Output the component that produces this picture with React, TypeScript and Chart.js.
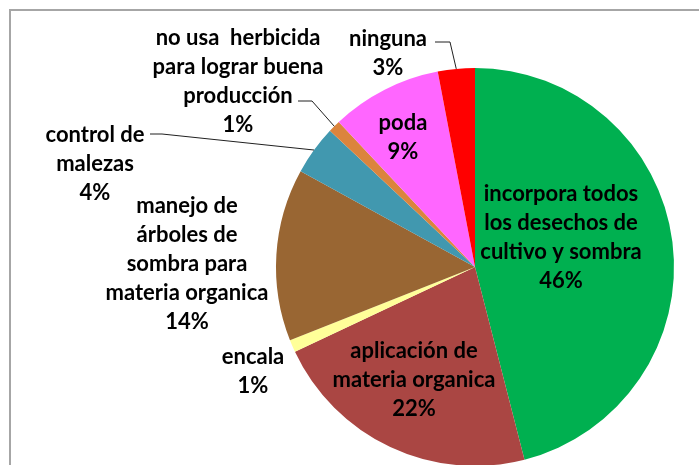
import React, { useEffect, useRef } from "react";
import { Chart, registerables } from "chart.js";

Chart.register(...registerables);

// ---- data ----
const categories: string[] = [
  "incorpora todos los desechos de cultivo y sombra",
  "aplicación de materia organica",
  "encala",
  "manejo de árboles de sombra para materia organica",
  "control de malezas",
  "no usa  herbicida para lograr buena producción",
  "poda",
  "ninguna",
];
const labelLines: string[][] = [
  ["incorpora todos", "los desechos de", "cultivo y sombra"],
  ["aplicación de", "materia organica"],
  ["encala"],
  ["manejo de", "árboles de", "sombra para", "materia organica"],
  ["control de", "malezas"],
  ["no usa  herbicida", "para lograr buena", "producción"],
  ["poda"],
  ["ninguna"],
];
const values: number[] = [46, 22, 1, 14, 4, 1, 9, 3];
const colors: string[] = [
  "#00B050",
  "#AA4643",
  "#FFFF99",
  "#996633",
  "#4198AF",
  "#DB843D",
  "#FF66FF",
  "#FF0000",
];

// ---- label layout (offsets from pie centre, px) ----
type Layout = { dx: number; dy: number; leader?: [number, number][] };
const labelLayout: Layout[] = [
  { dx: 86, dy: -30 },
  { dx: -61, dy: 113 },
  { dx: -222, dy: 104 },
  { dx: -288, dy: -3 },
  { dx: -380, dy: -103, leader: [[-313, -133], [-325, -133]] },
  { dx: -237, dy: -186, leader: [[-163, -166], [-177, -166]] },
  { dx: -72, dy: -130 },
  { dx: -87, dy: -214, leader: [[-25, -225], [-40, -225]] },
];
const LINE_H = 29;
const FONT = "bold 22px Lato";

const labelPlugin = {
  id: "pieLabels",
  afterDatasetsDraw(chart: any) {
    const ctx: CanvasRenderingContext2D = chart.ctx;
    const meta = chart.getDatasetMeta(0);
    const total = values.reduce((a, b) => a + b, 0);
    ctx.save();
    ctx.font = FONT;
    ctx.fillStyle = "#000";
    ctx.textAlign = "center";
    ctx.textBaseline = "middle";
    meta.data.forEach((arc: any, i: number) => {
      const p = arc.getProps(["x", "y", "startAngle", "endAngle", "outerRadius"], true);
      const mid = (p.startAngle + p.endAngle) / 2;
      const L = labelLayout[i];
      const lines = [...labelLines[i], Math.round((values[i] / total) * 100) + "%"];
      const cx = p.x + L.dx;
      const top = p.y + L.dy - ((lines.length - 1) * LINE_H) / 2;
      lines.forEach((t, j) => ctx.fillText(t, cx, top + j * LINE_H));
      if (L.leader) {
        ctx.beginPath();
        ctx.strokeStyle = "#202020";
        ctx.lineWidth = 1;
        ctx.moveTo(p.x + p.outerRadius * Math.cos(mid), p.y + p.outerRadius * Math.sin(mid));
        L.leader.forEach(([lx, ly]) => ctx.lineTo(p.x + lx, p.y + ly));
        ctx.stroke();
      }
    });
    ctx.restore();
  },
};

export default function App() {
  const ref = useRef<HTMLCanvasElement>(null);
  useEffect(() => {
    if (!ref.current) return;
    const chart = new Chart(ref.current, {
      type: "pie",
      data: {
        labels: categories,
        datasets: [
          {
            data: values,
            backgroundColor: colors,
            borderWidth: 0,
          },
        ],
      },
      options: {
        responsive: false,
        animation: false,
        layout: { padding: { left: 276, right: 25, top: 68, bottom: 14 } },
        plugins: {
          legend: { display: false },
          tooltip: { enabled: false },
        },
      },
      plugins: [labelPlugin],
    });
    return () => chart.destroy();
  }, []);

  return (
    <div
      style={{
        position: "absolute",
        left: 0,
        top: 0,
        width: 699,
        height: 465,
        overflow: "hidden",
        background: "#fff",
      }}
    >
      <div
        style={{
          position: "absolute",
          left: 9,
          top: 9,
          width: 800,
          height: 800,
          borderTop: "2px solid #A6A6A6",
          borderLeft: "2px solid #A6A6A6",
        }}
      />
      <canvas
        ref={ref}
        width={699}
        height={480}
        style={{ position: "absolute", left: 0, top: 0, width: 699, height: 480 }}
      />
    </div>
  );
}
